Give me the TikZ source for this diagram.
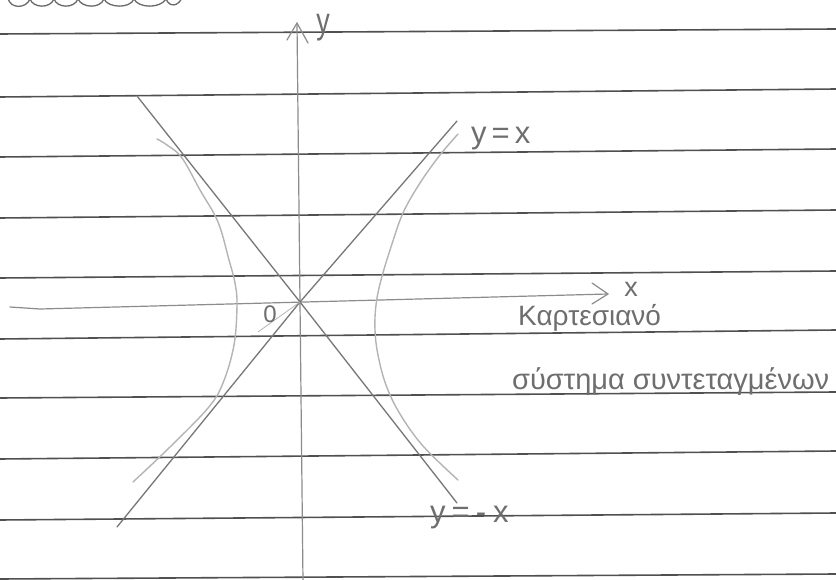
\documentclass[tikz,border=0pt]{standalone}
\usepackage{fontspec}
\setmainfont{Liberation Sans}
\definecolor{rulegray}{HTML}{505050}
\definecolor{axisgray}{HTML}{8C8C8C}
\definecolor{asymgray}{HTML}{777777}
\definecolor{hypgray}{HTML}{B4B4B4}
\definecolor{textgray}{HTML}{6E6E6E}
\begin{document}
\begin{tikzpicture}[x=1pt,y=-1pt,
  rule/.style={line width=1.6pt, draw=rulegray},
  axisline/.style={line width=1.2pt, draw=axisgray, line cap=round, line join=round},
  asym/.style={line width=1.3pt, draw=asymgray, line cap=round, line join=round},
  hyp/.style={line width=1.4pt, draw=hypgray, line cap=round},
  faint/.style={line width=0.8pt, draw=hypgray},
  scal/.style={line width=1.3pt, draw=rulegray!85, line cap=round},
  hand/.style={text=textgray, inner sep=0pt}]
\useasboundingbox (0,0) rectangle (836,580);
\fill[white] (0,0) rectangle (836,580);

% torn edge scallops
\draw[scal] (8,-2)
  .. controls (10,9) and (26,9) .. (30,-1)
  .. controls (33,8) and (50,9) .. (54,-1)
  .. controls (57,8) and (74,9) .. (78,-1)
  .. controls (82,8) and (100,9) .. (104,-1)
  .. controls (108,8) and (130,9) .. (134,-1)
  .. controls (138,8) and (160,9) .. (166,-1)
  .. controls (170,8) and (178,6) .. (182,-2);

% ruled lines
\foreach \a/\b in {34/29, 97/89, 157/149, 218/210, 278/271, 339/330, 398/392, 459/451, 520/513, 579/574}
  \draw[rule] (0,\a) -- (836,\b);

% coordinates
\coordinate (O) at (300,302);
\coordinate (yb) at (303,582);
\coordinate (yt) at (297,23);
\coordinate (ya1) at (287,40);
\coordinate (ya2) at (308,43);
\coordinate (xl) at (10,307);
\coordinate (xr) at (608,294);
\coordinate (xa1) at (592,283);
\coordinate (xa2) at (592,304);
\coordinate (m1) at (137,96);
\coordinate (m2) at (457,503);
\coordinate (p1) at (117,527);
\coordinate (p2) at (457,121);
\coordinate (fa) at (258,332);

% axes
\draw[axisline] (yb) -- (yt);
\draw[axisline] (ya1) -- (yt) -- (ya2);
\draw[axisline] (xl) -- (40,309) -- (xr);
\draw[axisline] (xa1) -- (xr) -- (xa2);

% asymptotes
\draw[asym] (m1) -- (O) -- (m2);
\draw[asym] (p1) -- (O) -- (p2);
\draw[faint] (O) -- (fa);

% hyperbola
\draw[hyp] plot[smooth, tension=0.6] coordinates {(157,139) (167,145) (182,158) (200,190) (218,222) (229,260) (235,283) (237,305) (234,345) (223,383) (208,408) (170,447) (133,482)};
\draw[hyp] plot[smooth, tension=0.6] coordinates {(458,134) (440,155) (420,183) (403,213) (391,247) (381,280) (376,305) (375,330) (378,355) (386,385) (400,414) (423,446) (458,480)};

% labels
\node[hand, font=\fontsize{27}{27}\selectfont] (ylab) at (323,28) {\scalebox{1}[1.35]{y}};
\node[hand, font=\fontsize{27}{27}\selectfont] (xlab) at (631,289) {x};
\node[hand, font=\fontsize{24}{24}\selectfont] (olab) at (270,314) {0};
\node[hand, anchor=base west, font=\fontsize{31}{31}\selectfont] (lyx) at (471,144) {y\hspace{5pt}=\hspace{5pt}x};
\node[hand, anchor=base west, font=\fontsize{31}{31}\selectfont] (lymx) at (430,522) {y\hspace{6pt}=\hspace{6pt}-\hspace{7pt}x};
\node[hand, anchor=base west, font=\fontsize{28}{28}\selectfont] (t1) at (518,326) {Καρτεσιανό};
\node[hand, anchor=base west, font=\fontsize{29}{29}\selectfont] (t2) at (512,389) {σύστημα συντεταγμένων};
\end{tikzpicture}
\end{document}
